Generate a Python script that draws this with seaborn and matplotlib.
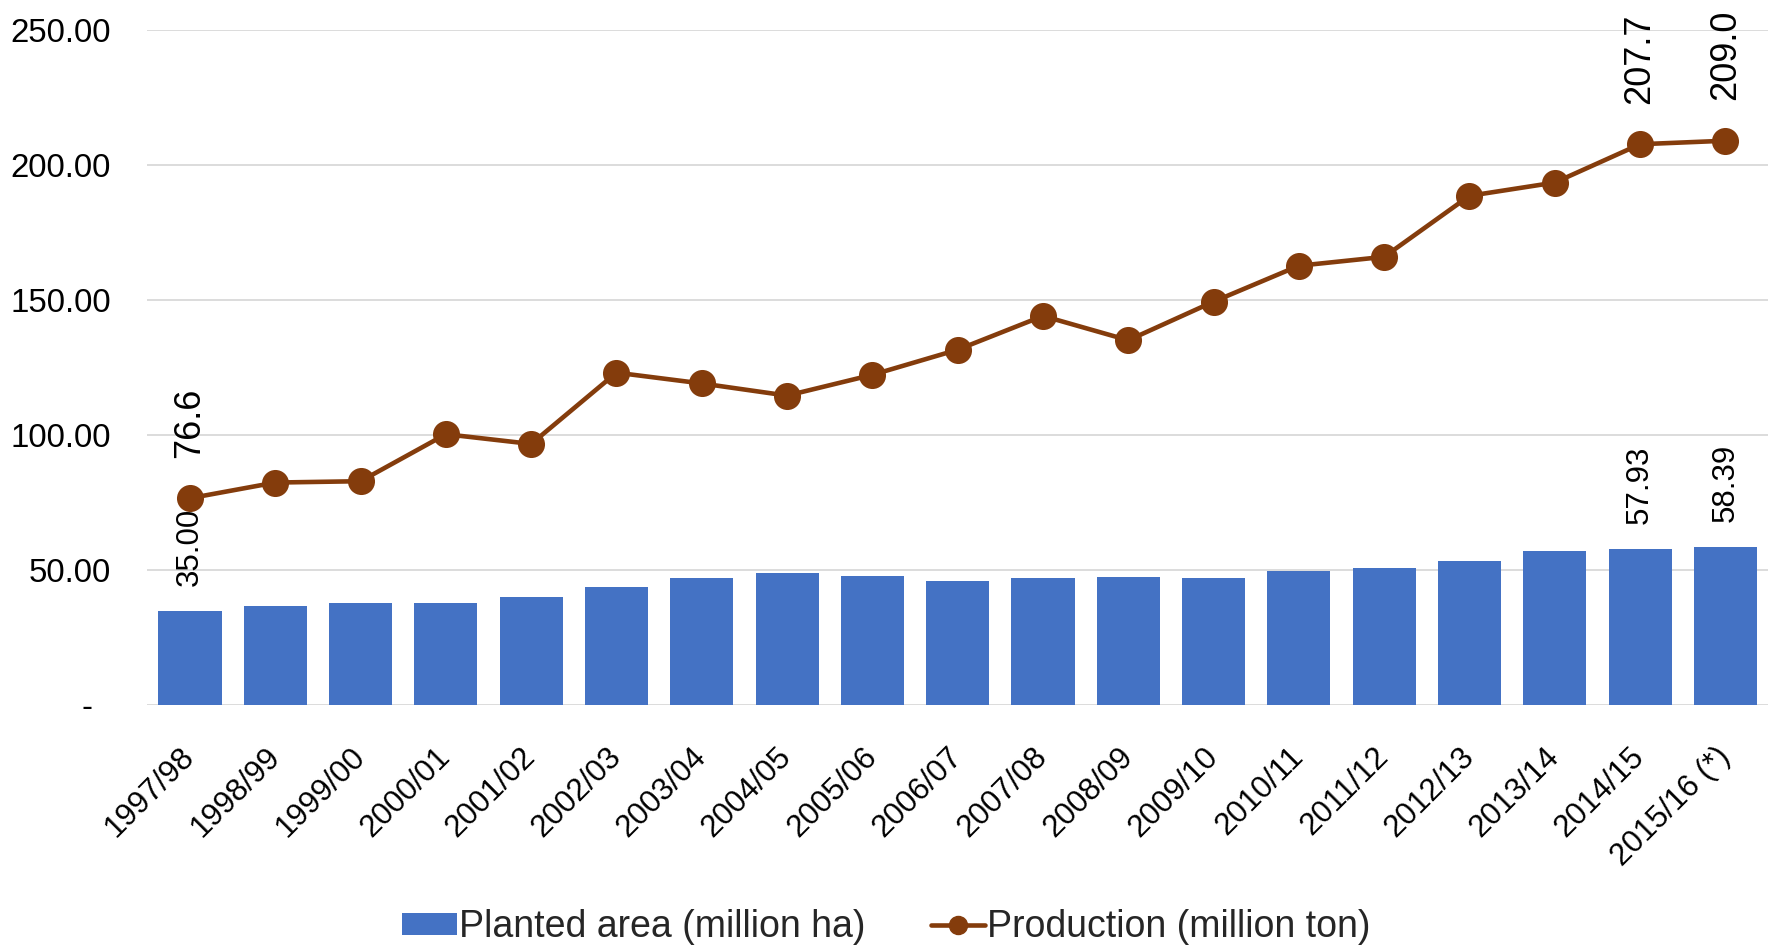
import matplotlib
matplotlib.use("Agg")
import matplotlib.pyplot as plt
from matplotlib.lines import Line2D
from matplotlib.ticker import FuncFormatter
import pandas as pd
import seaborn as sns

seasons = ['1997/98', '1998/99', '1999/00', '2000/01', '2001/02', '2002/03',
           '2003/04', '2004/05', '2005/06', '2006/07', '2007/08', '2008/09',
           '2009/10', '2010/11', '2011/12', '2012/13', '2013/14', '2014/15',
           '2015/16 (*)']
planted_area = [35.00, 36.7, 37.7, 37.7, 40.1, 43.7, 47.2, 48.9, 47.7, 45.9,
                47.2, 47.4, 47.2, 49.8, 50.7, 53.4, 56.9, 57.93, 58.39]
production = [76.6, 82.4, 82.9, 100.3, 96.7, 123.1, 119.1, 114.6, 122.3, 131.6,
              144.1, 135.1, 149.4, 162.7, 166.0, 188.6, 193.5, 207.7, 209.0]
labelled = [0, 17, 18]
y_ticks = [0, 50, 100, 150, 200, 250]

area_name = 'Planted area (million ha)'
prod_name = 'Production (million ton)'

BAR_COLOR = '#4472C4'
LINE_COLOR = '#843C0C'
GRID_COLOR = '#D9D9D9'

sns.set_theme(style='white')
plt.rcParams['font.family'] = ['Liberation Sans', 'DejaVu Sans']

df = pd.DataFrame({'season': seasons, 'area': planted_area, 'production': production})

fig = plt.figure(figsize=(17.73, 9.47), dpi=100)
ax = fig.add_axes([0.0831, 0.2555, 0.9141, 0.7128])

sns.barplot(data=df, x='season', y='area', color=BAR_COLOR, saturation=1,
            width=0.74, linewidth=0, ax=ax, zorder=2)
sns.pointplot(data=df, x='season', y='production', color=LINE_COLOR,
              markers='o', markersize=17, linewidth=3.3, ax=ax, zorder=3)

ax.set_ylim(0, 250)
ax.set_xlim(-0.5, len(seasons) - 0.5)
ax.set_yticks(y_ticks)
ax.yaxis.set_major_formatter(FuncFormatter(lambda v, _: f'{v:.2f}' if v else '-  '))
ax.grid(axis='y', color=GRID_COLOR, linewidth=1.3, zorder=0)
ax.set_axisbelow(True)
for s in ax.spines.values():
    s.set_visible(False)
ax.set_xlabel('')
ax.set_ylabel('')
ax.tick_params(axis='y', length=0, pad=26, labelsize=23.8, colors='black')
ax.tick_params(axis='x', length=0, pad=34, labelsize=22.5, colors='black')
for lab in ax.get_xticklabels():
    lab.set_rotation(45)
    lab.set_ha('right')
    lab.set_va('center')
    lab.set_rotation_mode('anchor')

# value labels on the first and last seasons
for i in labelled:
    ax.annotate(f'{production[i]:.1f}', (i, production[i]), xytext=(0, 29),
                textcoords='offset points', rotation=90, ha='center', va='bottom',
                fontsize=26, color='black', zorder=4)
    ax.annotate(f'{planted_area[i]:.2f}', (i, planted_area[i]), xytext=(0, 18),
                textcoords='offset points', rotation=90, ha='center', va='bottom',
                fontsize=22.5, color='black', zorder=4)

prod_handle = Line2D([], [], color=LINE_COLOR, linewidth=3.3, marker='o', markersize=13)
handles = [ax.containers[0], prod_handle]
fig.legend(handles, [area_name, prod_name], loc='center', bbox_to_anchor=(0.5, 0.021),
           ncol=2, frameon=False, fontsize=27, handlelength=1.45, handleheight=0.55,
           handletextpad=0.05, columnspacing=1.75, numpoints=1)

fig.savefig('out.png', dpi=100)
